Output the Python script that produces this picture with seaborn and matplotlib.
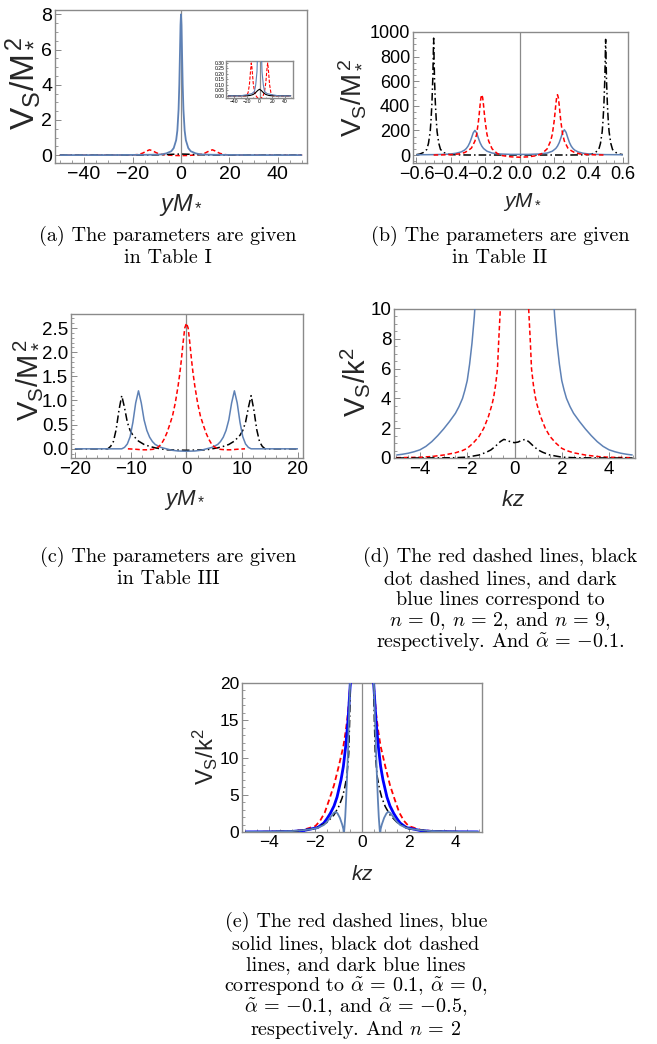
import numpy as np
import pandas as pd
import matplotlib
matplotlib.use("Agg")
import matplotlib.pyplot as plt
import seaborn as sns
from matplotlib.ticker import AutoMinorLocator

# ---------------- data ----------------
# panel (a)
a_x_blue = [-50, -30, -20, -12, -8, -6, -4, -3, -2, -1.5, -1, -0.7, -0.4, -0.2, 0,
            0.2, 0.4, 0.7, 1, 1.5, 2, 3, 4, 6, 8, 12, 20, 30, 50]
a_y_blue = [0, 0, 0.01, 0.02, 0.04, 0.1, 0.22, 0.4, 0.85, 1.4, 2.6, 4.0, 6.0, 7.4, 8.0,
            7.4, 6.0, 4.0, 2.6, 1.4, 0.85, 0.4, 0.22, 0.1, 0.04, 0.02, 0.01, 0, 0]
a_x_red = [-50, -30, -22, -20, -18, -16, -14, -13, -12, -10, -8, -6, -4, -2, 0,
           2, 4, 6, 8, 10, 12, 13, 14, 16, 18, 20, 22, 30, 50]
a_y_red = [0, 0, 0, 0.005, 0.03, 0.1, 0.24, 0.30, 0.26, 0.12, 0.04, 0.005, -0.012, -0.025, -0.03,
           -0.025, -0.012, 0.005, 0.04, 0.12, 0.26, 0.30, 0.24, 0.1, 0.03, 0.005, 0, 0, 0]
a_x_black = [-50, -30, -20, -15, -10, -6, -3, 0, 3, 6, 10, 15, 20, 30, 50]
a_y_black = [0, 0, 0, 0.003, 0.012, 0.03, 0.048, 0.06, 0.048, 0.03, 0.012, 0.003, 0, 0, 0]

# panel (b)
b_x_black = [-0.6, -0.58, -0.56, -0.54, -0.53, -0.52, -0.515, -0.51, -0.505, -0.5, -0.495, -0.49,
             -0.485, -0.48, -0.47, -0.46, -0.44, -0.42, -0.4, -0.35, -0.3, -0.2, -0.1, 0,
             0.1, 0.2, 0.3, 0.35, 0.4, 0.42, 0.44, 0.46, 0.47, 0.48, 0.485, 0.49, 0.495, 0.5,
             0.505, 0.51, 0.515, 0.52, 0.53, 0.54, 0.56, 0.58, 0.6]
b_y_black = [3, 8, 20, 45, 95, 190, 290, 420, 620, 950, 620, 420,
             290, 190, 95, 45, 20, 8, 3, 1, 0, 0, 0, 0,
             0, 0, 0, 1, 3, 8, 20, 45, 95, 190, 285, 415, 610, 940,
             610, 415, 285, 190, 95, 45, 20, 8, 3]
b_x_red = [-0.5, -0.45, -0.4, -0.35, -0.32, -0.3, -0.28, -0.26, -0.25, -0.24, -0.235, -0.23, -0.225,
           -0.22, -0.215, -0.21, -0.205, -0.2, -0.19, -0.18, -0.16, -0.13, -0.1, -0.05, 0,
           0.05, 0.1, 0.13, 0.16, 0.18, 0.19, 0.2, 0.205, 0.21, 0.215, 0.22, 0.225, 0.23,
           0.235, 0.24, 0.25, 0.26, 0.28, 0.3, 0.32, 0.35, 0.4, 0.45, 0.5]
b_y_red = [0, 1, 3, 9, 20, 35, 57, 113, 169, 268, 333, 406, 466,
           490, 466, 406, 333, 268, 169, 113, 50, 12, -5, -15, -18,
           -15, -5, 12, 50, 113, 169, 268, 333, 406, 466, 490, 466, 406,
           333, 268, 169, 113, 57, 35, 20, 9, 3, 1, 0]
b_x_blue = [-0.6, -0.5, -0.45, -0.41, -0.37, -0.34, -0.32, -0.31, -0.3, -0.29, -0.28, -0.27, -0.26,
            -0.25, -0.24, -0.23, -0.22, -0.21, -0.19, -0.16, -0.11, -0.05, 0,
            0.05, 0.11, 0.16, 0.19, 0.21, 0.22, 0.23, 0.24, 0.25, 0.26, 0.27, 0.28, 0.29,
            0.3, 0.31, 0.32, 0.34, 0.37, 0.41, 0.45, 0.5, 0.6]
b_y_blue = [2, 3, 5, 7, 14, 25, 40, 53, 72, 100, 138, 180, 200,
            180, 138, 100, 72, 53, 31, 16, 8, 5, 5,
            5, 8, 16, 31, 53, 72, 100, 140, 184, 205, 184, 140, 100,
            72, 53, 40, 25, 14, 7, 5, 3, 2]

# panel (c)
c_x_red = [-10.5, -9, -8, -7, -6, -5, -4.5, -4, -3.5, -3, -2.5, -2, -1.5, -1.2, -0.9, -0.6, -0.3, 0,
           0.3, 0.6, 0.9, 1.2, 1.5, 2, 2.5, 3, 3.5, 4, 4.5, 5, 6, 7, 8, 9, 10.5]
c_y_red = [0, -0.01, -0.02, -0.02, -0.01, 0.04, 0.1, 0.2, 0.33, 0.5, 0.68, 0.95, 1.3, 1.55, 1.85, 2.2, 2.5, 2.6,
           2.5, 2.2, 1.85, 1.55, 1.3, 0.95, 0.68, 0.5, 0.33, 0.2, 0.1, 0.04, -0.01, -0.02, -0.02, -0.01, 0]
c_x_blue = [-20, -14, -12, -11.6, -11.1, -10.6, -10.1, -9.6, -9.1, -8.6, -8.1, -7.6, -7.1, -6.6, -6.1,
            -5.6, -4.6, -3.6, -2.6, -1.5, 0, 1.5, 2.6, 3.6, 4.6, 5.6, 6.1, 6.6, 7.1, 7.6, 8.1,
            8.6, 9.1, 9.6, 10.1, 10.6, 11.1, 11.6, 12, 14, 20]
c_y_blue = [0, 0, 0, 0, 0.03, 0.1, 0.25, 0.55, 0.95, 1.2, 0.95, 0.6, 0.38, 0.24, 0.15,
            0.09, 0.03, 0, -0.03, -0.045, -0.05, -0.045, -0.03, 0, 0.03, 0.09, 0.15, 0.24, 0.38, 0.6, 0.95,
            1.2, 0.95, 0.55, 0.25, 0.1, 0.03, 0, 0, 0, 0]
c_x_black = [-20, -15, -14.1, -13.6, -13.1, -12.6, -12.1, -11.6, -11.1, -10.6, -10.1, -9.6, -8.6, -7.6,
             -6.6, -5.6, -4.6, -3.6, 0, 3.6, 4.6, 5.6, 6.6, 7.6, 8.6, 9.6, 10.1, 10.6, 11.1, 11.6,
             12.1, 12.6, 13.1, 13.6, 14.1, 15, 20]
c_y_black = [0, 0, 0, 0.05, 0.15, 0.4, 0.8, 1.1, 0.85, 0.55, 0.38, 0.28, 0.16, 0.09,
             0.05, 0.02, 0, -0.02, -0.03, -0.02, 0, 0.02, 0.05, 0.09, 0.16, 0.28, 0.38, 0.55, 0.85, 1.1,
             0.8, 0.4, 0.15, 0.05, 0, 0, 0]

# panel (d)
d_x_blue_l = [-5.0, -4.75, -4.5, -4.25, -4.0, -3.75, -3.5, -3.25, -3.0, -2.75, -2.5, -2.35, -2.2,
              -2.1, -2.0, -1.9, -1.8, -1.7, -1.62]
d_y_blue_l = [0.2, 0.25, 0.32, 0.42, 0.55, 0.78, 1.1, 1.5, 1.95, 2.45, 3.0, 3.45, 4.0,
              4.55, 5.2, 6.3, 7.7, 9.5, 11.5]
d_x_blue_r = [1.62, 1.7, 1.8, 1.9, 2.0, 2.1, 2.2, 2.35, 2.5, 2.75, 3.0, 3.25, 3.5, 3.75,
              4.0, 4.25, 4.5, 4.75, 5.0]
d_y_blue_r = [11.5, 9.5, 7.7, 6.3, 5.2, 4.55, 4.0, 3.45, 3.0, 2.45, 1.95, 1.5, 1.1, 0.78,
              0.55, 0.42, 0.32, 0.25, 0.2]
d_x_red_l = [-5.0, -4.0, -3.5, -3.0, -2.5, -2.2, -2.0, -1.75, -1.5, -1.3, -1.1, -0.95, -0.88, -0.8,
             -0.72, -0.67, -0.6, -0.56]
d_y_red_l = [0.02, 0.05, 0.1, 0.2, 0.35, 0.5, 0.65, 1.0, 1.45, 2.0, 2.8, 3.6, 4.1, 4.9,
             6.0, 7.8, 10.0, 11.5]
d_x_red_r = [0.56, 0.6, 0.67, 0.72, 0.8, 0.88, 0.95, 1.1, 1.3, 1.5, 1.75, 2.0, 2.2, 2.5,
             3.0, 3.5, 4.0, 5.0]
d_y_red_r = [11.5, 10.0, 7.8, 6.0, 4.9, 4.1, 3.6, 2.8, 2.0, 1.45, 1.0, 0.65, 0.5, 0.35,
             0.2, 0.1, 0.05, 0.02]
d_x_black = [-5, -4, -3, -2.5, -2, -1.5, -1.2, -1.0, -0.8, -0.6, -0.45, -0.3, -0.15, 0,
             0.15, 0.3, 0.45, 0.6, 0.8, 1.0, 1.2, 1.5, 2, 2.5, 3, 4, 5]
d_y_black = [0, 0, 0.01, 0.02, 0.06, 0.2, 0.38, 0.54, 0.8, 1.1, 1.25, 1.18, 1.07, 1.03,
             1.07, 1.18, 1.25, 1.1, 0.8, 0.54, 0.38, 0.2, 0.06, 0.02, 0.01, 0, 0]

# panel (e)  (left branch x<0, right branch x>0)
e_x_red_l = [-5, -4, -3, -2.5, -2, -1.8, -1.6, -1.4, -1.2, -1.0, -0.8, -0.7, -0.6, -0.5, -0.45]
e_y_red_l = [0.01, 0.03, 0.12, 0.3, 0.8, 1.5, 2.6, 4.4, 6.3, 8.8, 11.5, 13.5, 16, 20, 23]
e_x_red_r = [0.45, 0.5, 0.6, 0.7, 0.8, 1.0, 1.2, 1.4, 1.6, 1.8, 2, 2.5, 3, 4, 5]
e_y_red_r = [23, 20, 16, 13.5, 11.5, 8.8, 6.3, 4.4, 2.6, 1.5, 0.8, 0.3, 0.12, 0.03, 0.01]
e_x_blue_l = [-5, -4, -3, -2.5, -1.9, -1.64, -1.5, -1.36, -1.2, -1.07, -0.9, -0.8, -0.7, -0.6, -0.5, -0.45]
e_y_blue_l = [0.01, 0.02, 0.08, 0.2, 0.6, 1.2, 1.8, 2.5, 3.5, 4.7, 7.0, 8.8, 11.5, 15, 20, 24]
e_x_blue_r = [0.45, 0.5, 0.6, 0.7, 0.8, 0.9, 1.07, 1.2, 1.36, 1.5, 1.64, 1.9, 2.5, 3, 4, 5]
e_y_blue_r = [24, 20, 15, 11.5, 8.8, 7.0, 4.7, 3.5, 2.5, 1.8, 1.2, 0.6, 0.2, 0.08, 0.02, 0.01]
e_x_black_l = [-5, -3, -2, -1.5, -1.2, -1.0, -0.85, -0.75, -0.65, -0.57, -0.53, -0.5, -0.47]
e_y_black_l = [0.01, 0.08, 0.45, 1.3, 2.3, 3.4, 4.6, 5.8, 7.5, 10.5, 15, 20, 24]
e_x_black_r = [0.47, 0.5, 0.53, 0.57, 0.65, 0.75, 0.85, 1.0, 1.2, 1.5, 2, 3, 5]
e_y_black_r = [24, 20, 15, 10.5, 7.5, 5.8, 4.6, 3.4, 2.3, 1.3, 0.45, 0.08, 0.01]
e_x_dark_l = [-5, -4, -3, -2.5, -2.2, -1.9, -1.64, -1.5, -1.35, -1.2, -1.12, -1.05, -0.95, -0.85,
              -0.8, -0.78, -0.76, -0.72, -0.68, -0.64, -0.6, -0.56, -0.52, -0.5, -0.48]
e_y_dark_l = [0.02, 0.04, 0.12, 0.25, 0.36, 0.55, 0.94, 1.35, 2.0, 2.6, 2.7, 2.5, 1.9, 1.0,
              0.4, -0.3, 0.3, 2.0, 4.5, 7.5, 11, 15, 19, 21, 23]
e_x_dark_r = [0.48, 0.5, 0.52, 0.56, 0.6, 0.64, 0.68, 0.72, 0.76, 0.78, 0.8, 0.85, 0.95, 1.05,
              1.12, 1.2, 1.35, 1.5, 1.64, 1.9, 2.2, 2.5, 3, 4, 5]
e_y_dark_r = [23, 21, 19, 15, 11, 7.5, 4.5, 2.0, 0.3, -0.3, 0.4, 1.0, 1.9, 2.5,
              2.7, 2.6, 2.0, 1.35, 0.94, 0.55, 0.36, 0.25, 0.12, 0.04, 0.02]

# tick labels
a_xticks = [-40, -20, 0, 20, 40]; a_xlabels = ["\u221240", "\u221220", "0", "20", "40"]
a_yticks = [0, 2, 4, 6, 8]; a_ylabels = ["0", "2", "4", "6", "8"]
ins_xticks = [-40, -20, 0, 20, 40]; ins_xlabels = ["\u221240", "\u221220", "0", "20", "40"]
ins_yticks = [0, 0.05, 0.1, 0.15, 0.2, 0.25, 0.3]
ins_ylabels = ["0.00", "0.05", "0.10", "0.15", "0.20", "0.25", "0.30"]
b_xticks = [-0.6, -0.4, -0.2, 0, 0.2, 0.4, 0.6]
b_xlabels = ["\u22120.6", "\u22120.4", "\u22120.2", "0.0", "0.2", "0.4", "0.6"]
b_yticks = [0, 200, 400, 600, 800, 1000]; b_ylabels = ["0", "200", "400", "600", "800", "1000"]
c_xticks = [-20, -10, 0, 10, 20]; c_xlabels = ["\u221220", "\u221210", "0", "10", "20"]
c_yticks = [0, 0.5, 1.0, 1.5, 2.0, 2.5]; c_ylabels = ["0.0", "0.5", "1.0", "1.5", "2.0", "2.5"]
d_xticks = [-4, -2, 0, 2, 4]; d_xlabels = ["\u22124", "\u22122", "0", "2", "4"]
d_yticks = [0, 2, 4, 6, 8, 10]; d_ylabels = ["0", "2", "4", "6", "8", "10"]
e_xticks = [-4, -2, 0, 2, 4]; e_xlabels = ["\u22124", "\u22122", "0", "2", "4"]
e_yticks = [0, 5, 10, 15, 20]; e_ylabels = ["0", "5", "10", "15", "20"]

# ---------------- style ----------------
sns.set_theme(style="white")
plt.rcParams.update({
    "font.family": ["Liberation Sans", "DejaVu Sans"],
    "mathtext.fontset": "custom",
    "mathtext.rm": "Liberation Sans",
    "mathtext.it": "Liberation Sans:italic",
    "mathtext.bf": "Liberation Sans:bold",
    "axes.unicode_minus": True,
})

W, H = 657, 1044
fig = plt.figure(figsize=(W / 100, H / 100), dpi=100)
fig.patch.set_facecolor("white")

SB = "#5E81B5"
FRAME = "#8a8a8a"
LW = 1.1
DASH = (3.0, 1.8)
DOTDASH = (5.0, 2.0, 1.0, 2.0)


def px_axes(x0, y0, x1, y1):
    return fig.add_axes([x0 / W, 1 - y1 / H, (x1 - x0) / W, (y1 - y0) / H])


def line(ax, xs, ys, color, lw=LW, dashes=None, z=3):
    df = pd.DataFrame({"x": xs, "y": ys})
    sns.lineplot(data=df, x="x", y="y", ax=ax, color=color, lw=lw,
                 estimator=None, sort=False, zorder=z)
    ln = ax.lines[-1]
    if dashes is not None:
        ln.set_dashes(dashes)
    ln.set_solid_capstyle("butt")
    ln.set_dash_capstyle("butt")
    ln.set_solid_joinstyle("round")


def style(ax, xlim, ylim, xt, xl, yt, yl, fs, minors=(5, 5)):
    ax.set_xlim(xlim); ax.set_ylim(ylim)
    ax.set_xticks(xt); ax.set_xticklabels(xl, fontsize=fs)
    ax.set_yticks(yt); ax.set_yticklabels(yl, fontsize=fs)
    ax.xaxis.set_minor_locator(AutoMinorLocator(minors[0]))
    ax.yaxis.set_minor_locator(AutoMinorLocator(minors[1]))
    ax.tick_params(which="major", direction="in", length=4, width=0.7, color=FRAME,
                   bottom=True, left=True, top=False, right=False, pad=2, labelcolor="black")
    ax.tick_params(which="minor", direction="in", length=2, width=0.6, color=FRAME,
                   bottom=True, left=True, top=False, right=False)
    for s in ax.spines.values():
        s.set_color(FRAME); s.set_linewidth(1.0)
    ax.axvline(0, color="#8a8a8a", lw=0.9, zorder=1)
    ax.set_facecolor("white")


def labels(ax, xlab, ylab, xfs, yfs, xpos, ypos):
    pos = ax.get_position()
    ax.set_xlabel(xlab, fontsize=xfs)
    ax.set_ylabel(ylab, fontsize=yfs)
    ax.xaxis.label.set_va("center"); ax.yaxis.label.set_va("center")
    ax.xaxis.label.set_ha("center"); ax.yaxis.label.set_ha("center")
    ax.xaxis.set_label_coords((xpos[0] / W - pos.x0) / pos.width,
                              ((1 - xpos[1] / H) - pos.y0) / pos.height)
    ax.yaxis.set_label_coords((ypos[0] / W - pos.x0) / pos.width,
                              ((1 - ypos[1] / H) - pos.y0) / pos.height)


YLAB_M = r"$\mathrm{V_S/M_*^{\,2}}$"
YLAB_K = r"$\mathrm{V_S/k^2}$"
XLAB_Y = r"$yM_*$"
XLAB_K = r"$kz$"

# ---------------- panel (a) ----------------
axa = px_axes(55, 10, 307, 163)
line(axa, a_x_red, a_y_red, "red", dashes=DASH)
line(axa, a_x_black, a_y_black, "black", dashes=DOTDASH)
line(axa, a_x_blue, a_y_blue, SB, lw=1.3)
style(axa, (-52, 52), (-0.45, 8.25), a_xticks, a_xlabels, a_yticks, a_ylabels, 14, (4, 4))
labels(axa, XLAB_Y, YLAB_M, 17, 24, (181, 205), (22, 83))

ins = px_axes(226, 61, 293, 98)
line(ins, a_x_red, a_y_red, "red", lw=0.8, dashes=(3.0, 1.5))
line(ins, a_x_black, a_y_black, "black", lw=0.8)
line(ins, a_x_blue, a_y_blue, SB, lw=0.8)
style(ins, (-53, 53), (-0.02, 0.318), ins_xticks, ins_xlabels, ins_yticks, ins_ylabels, 3.6, (2, 2))
ins.tick_params(which="major", length=1.5, pad=1)
ins.tick_params(which="minor", length=0.8)
ins.set_xlabel(""); ins.set_ylabel("")

# ---------------- panel (b) ----------------
axb = px_axes(413, 32, 628, 163)
line(axb, b_x_black, b_y_black, "black", dashes=DOTDASH)
line(axb, b_x_blue, b_y_blue, SB)
line(axb, b_x_red, b_y_red, "red", dashes=DASH)
style(axb, (-0.62, 0.63), (-65, 1000), b_xticks, b_xlabels, b_yticks, b_ylabels, 13, (4, 4))
labels(axb, XLAB_Y, YLAB_M, 15, 20, (522, 202), (351, 98))

# ---------------- panel (c) ----------------
axc = px_axes(71, 314, 303, 458)
line(axc, c_x_black, c_y_black, "black", dashes=DOTDASH)
line(axc, c_x_blue, c_y_blue, SB)
line(axc, c_x_red, c_y_red, "red", dashes=DASH)
style(axc, (-20.7, 20.9), (-0.19, 2.79), c_xticks, c_xlabels, c_yticks, c_ylabels, 13.5, (5, 5))
labels(axc, XLAB_Y, YLAB_M, 16, 21, (185, 500), (27, 380))

# ---------------- panel (d) ----------------
axd = px_axes(394, 309, 635, 458)
line(axd, d_x_blue_l, d_y_blue_l, SB)
line(axd, d_x_blue_r, d_y_blue_r, SB)
line(axd, d_x_red_l, d_y_red_l, "red", dashes=DASH)
line(axd, d_x_red_r, d_y_red_r, "red", dashes=DASH)
line(axd, d_x_black, d_y_black, "black", dashes=DOTDASH)
style(axd, (-5.1, 5.1), (0, 10), d_xticks, d_xlabels, d_yticks, d_ylabels, 13.5, (4, 4))
labels(axd, XLAB_K, YLAB_K, 16, 21, (513, 500), (355, 382))

# ---------------- panel (e) ----------------
axe = px_axes(242, 683, 482, 832)
line(axe, e_x_red_l, e_y_red_l, "red", lw=1.3, dashes=DASH)
line(axe, e_x_red_r, e_y_red_r, "red", lw=1.3, dashes=DASH)
line(axe, e_x_blue_l, e_y_blue_l, "#0000ff", lw=2.0)
line(axe, e_x_blue_r, e_y_blue_r, "#0000ff", lw=2.0)
line(axe, e_x_black_l, e_y_black_l, "black", dashes=DOTDASH)
line(axe, e_x_black_r, e_y_black_r, "black", dashes=DOTDASH)
line(axe, e_x_dark_l, e_y_dark_l, SB, lw=1.3)
line(axe, e_x_dark_r, e_y_dark_r, SB, lw=1.3)
style(axe, (-5.15, 5.15), (0, 20), e_xticks, e_xlabels, e_yticks, e_ylabels, 12.5, (4, 5))
labels(axe, XLAB_K, YLAB_K, 15, 17, (362, 875), (205, 757))

# ---------------- captions ----------------
CAP_FS = 14.5


def cap(lines, xc, ys):
    for t, y in zip(lines, ys):
        fig.text(xc / W, 1 - y / H, t, ha="center", va="center", fontsize=CAP_FS,
                 family="cmr10", math_fontfamily="cm", color="black")


cap(["(a) The parameters are given", "in Table I"], 168, [236, 258])
cap(["(b) The parameters are given", "in Table II"], 500, [236, 258])
cap(["(c) The parameters are given", "in Table III"], 168, [557, 579])
cap(["(d) The red dashed lines, black", "dot dashed lines, and dark",
     "blue lines correspond to", r"$n\,=\,0$, $n\,=\,2$, and $n\,=\,9$,",
     r"respectively. And $\tilde{\alpha}\,=\,{-}0.1$."], 500, [557, 579, 600, 621, 643])
cap(["(e) The red dashed lines, blue", "solid lines, black dot dashed",
     "lines, and dark blue lines",
     r"correspond to $\tilde{\alpha}\,=\,0.1$, $\tilde{\alpha}\,=\,0$,",
     r"$\tilde{\alpha}\,=\,{-}0.1$, and $\tilde{\alpha}\,=\,{-}0.5$,",
     r"respectively. And $n\,=\,2$"],
    356, [922, 944, 965, 987, 1008, 1030])

fig.savefig("out.png", dpi=100, facecolor="white")
